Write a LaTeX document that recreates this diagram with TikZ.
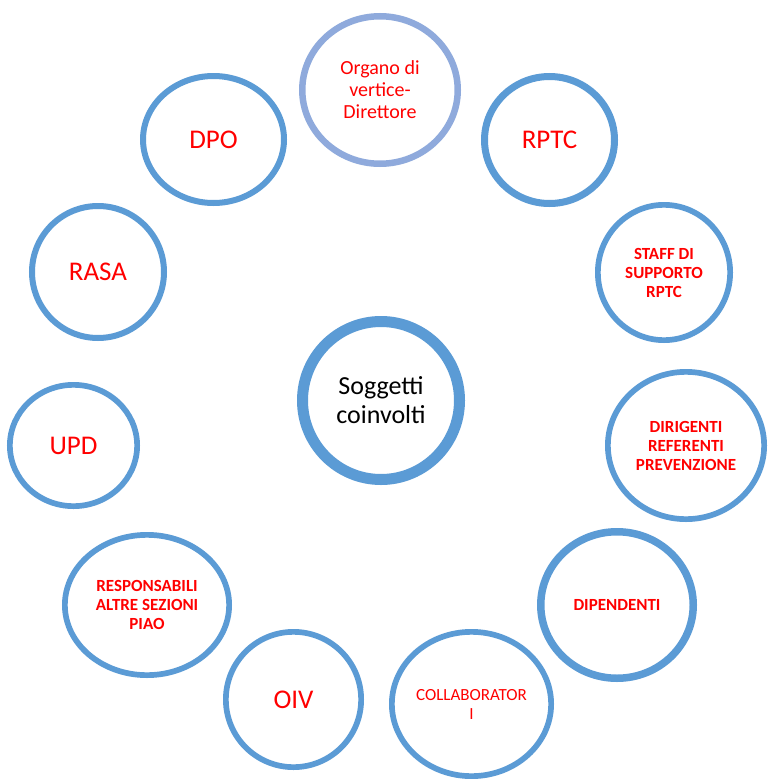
\documentclass[tikz,border=0pt]{standalone}
\usepackage{fontspec}
\setmainfont{Carlito}
\usetikzlibrary{shapes.geometric}
\definecolor{ringblue}{HTML}{5B9BD5}
\definecolor{ringlight}{HTML}{8FAADC}
\definecolor{txtred}{HTML}{FF0000}
\tikzset{
  ring/.style={ellipse, draw=ringblue, line width=5.7pt, inner sep=0pt, align=center, text=txtred},
  bigtxt/.style={font=\fontsize{27}{32}\selectfont},
  midtxt/.style={font=\fontsize{20}{22}\selectfont},
  smalltxt/.style={font=\bfseries\fontsize{17}{19}\selectfont},
  smallreg/.style={font=\fontsize{17}{19}\selectfont},
}
\begin{document}
\begin{tikzpicture}[x=1pt,y=-1pt]
\useasboundingbox (0,0) rectangle (768,779);
\fill[white] (0,0) rectangle (768,779);
\node[ring, draw=ringlight, line width=6.5pt, minimum width=155.5pt, minimum height=147.5pt, midtxt] (organo) at (380,90) {Organo di\\vertice-\\Direttore};
\node[ring, line width=7pt, minimum width=130pt, minimum height=127pt, bigtxt] (rptc) at (549.5,140) {RPTC};
\node[ring, line width=6pt, minimum width=141pt, minimum height=127pt, bigtxt] (dpo) at (213.5,139.5) {DPO};
\node[ring, line width=6pt, minimum width=132pt, minimum height=132pt, bigtxt] (rasa) at (98,272) {RASA};
\node[ring, minimum width=132.3pt, minimum height=135.3pt, smalltxt] (staff) at (664,272.5) {STAFF DI\\SUPPORTO\\RPTC};
\node[ring, minimum width=127.3pt, minimum height=121.3pt, bigtxt] (upd) at (73.5,445.5) {UPD};
\node[ring, line width=11pt, minimum width=157pt, minimum height=158pt, text=black, font=\fontsize{26}{29}\selectfont] (centro) at (381,400.5) {Soggetti\\coinvolti};
\node[ring, minimum width=156.3pt, minimum height=147.3pt, smalltxt] (dirigenti) at (686,445.5) {DIRIGENTI\\REFERENTI\\PREVENZIONE};
\node[ring, minimum width=164.3pt, minimum height=140.3pt, smalltxt] (responsabili) at (147,605) {RESPONSABILI\\ALTRE SEZIONI\\PIAO};
\node[ring, line width=7.5pt, minimum width=152.5pt, minimum height=146.5pt, smalltxt] (dipendenti) at (617,605) {DIPENDENTI};
\node[ring, minimum width=135.3pt, minimum height=135.3pt, bigtxt] (oiv) at (293.5,699.5) {OIV};
\node[ring, minimum width=159.3pt, minimum height=144.3pt, smallreg] (collab) at (471.5,704) {COLLABORATOR\\I};
\end{tikzpicture}
\end{document}
